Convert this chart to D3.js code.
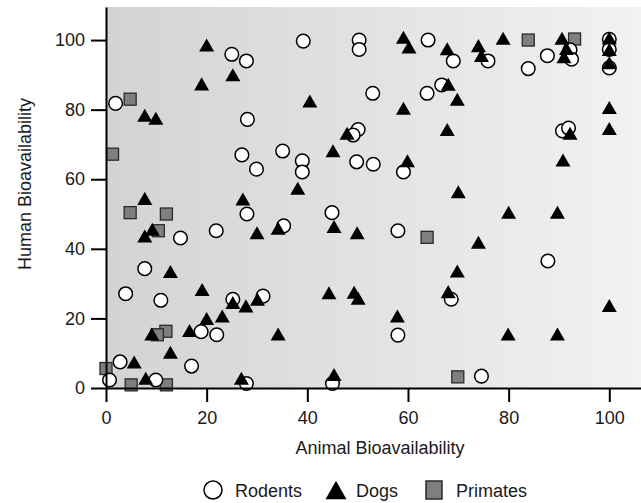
<!DOCTYPE html>
<html>
<head>
<meta charset="utf-8">
<script src="https://cdn.jsdelivr.net/npm/d3@7"></script>
<style>
  body { margin: 0; background: #fff; }
  svg { display: block; font-family: "Liberation Sans", Arial, Helvetica, sans-serif; }
</style>
</head>
<body>
<svg id="chart" width="641" height="503"></svg>
<script>
// ---- data ----
const seriesNames = ["Rodents", "Dogs", "Primates"];
const xTicks = [0, 20, 40, 60, 80, 100];
const yTicks = [0, 20, 40, 60, 80, 100];

const rodents = [
  [0.7,2.3],[2.8,7.5],[3.9,27.1],[7.7,34.3],[9.9,2.3],[10.9,25.2],[14.8,43.1],[17,6.3],
  [18.9,16.2],[22,15.3],[21.9,45.2],[25.2,25.5],[28,50],[27.9,1.3],[31.2,26.4],[35.3,46.6],
  [44.9,50.4],[45,1.3],[58,45.2],[58,15.2],[68.6,25.5],[74.6,3.4],[87.8,36.5],
  [1.9,81.8],[25,95.9],[27.9,94],[28.1,77.2],[27,67],[29.9,62.9],[35.1,68.1],[39.2,99.7],
  [39,65.3],[39,62.1],[50.3,100],[50.3,97.3],[50.1,74.3],[49.1,72.7],[49.8,65],[53.1,64.3],
  [53,84.7],[59.1,62.1],[63.8,84.7],[64,100],[66.7,87.1],[69,94],[75.9,94],[83.9,91.8],
  [87.7,95.5],[92.2,97.2],[92.5,94.5],[90.7,73.9],[91.9,74.7],[100,100.2],[100,97.3],[100,92]
];
const dogs = [
  [20,98.6],[25.2,90],[19,87.4],[7.7,78.4],[9.9,77.5],[40.5,82.5],[59.1,100.8],[60.2,98],
  [67.8,97.5],[74,98.4],[74.6,95.6],[78.9,100.5],[90.6,100.5],[91.5,97.6],[91,95.2],
  [100,100.6],[100,97.3],[100,93.5],[59.1,80.4],[68,87.3],[69.8,83],[67.8,74.3],[47.9,73.2],
  [45.1,68.2],[59.9,65.3],[38.1,57.4],[70,56.4],[92.2,73.2],[100,74.6],[100,80.6],[90.8,65.5],
  [7.7,54.5],[27.2,54.3],[9.2,45.6],[7.7,43.7],[30,44.6],[34.2,45.9],[45.3,46.4],[49.9,44.6],
  [12.8,33.5],[19.1,28.3],[25.2,24.6],[27.8,23.6],[30.1,25.5],[20,20],[23.1,20.7],[9.1,15.5],
  [16.6,16.5],[34.2,15.5],[12.8,10.3],[5.6,7.5],[7.9,2.8],[26.9,2.8],[44.3,27.4],[49.3,27.5],
  [50.1,25.8],[68,27.7],[57.9,20.7],[45.3,3.9],[69.8,33.6],[80,50.5],[89.7,50.5],[74,41.9],
  [100,23.7],[79.9,15.5],[89.7,15.5]
];
const primates = [
  [4.8,83],[1.3,67.2],[4.8,50.4],[12,50],[10.4,45.2],[11.9,16.3],[10.2,15.3],[0,5.6],
  [5,0.9],[12,0.9],[63.8,43.3],[69.9,3.2],[83.9,100],[93.1,100.3]
];

// ---- layout ----
const svg = d3.select("#chart");
const pLeft = 106, pRight = 641, pTop = 7, pBottom = 388;
const x = d3.scaleLinear().domain([0, 106.3]).range([pLeft, pRight]);
const y = d3.scaleLinear().domain([0, 109.5]).range([pBottom, pTop]);

// background gradient
const defs = svg.append("defs");
const grad = defs.append("linearGradient").attr("id", "bg").attr("x1", "0%").attr("x2", "100%").attr("y1", "0%").attr("y2", "0%");
grad.append("stop").attr("offset", "0%").attr("stop-color", "#d2d3d4");
grad.append("stop").attr("offset", "100%").attr("stop-color", "#f2f2f2");
svg.append("rect").attr("x", pLeft).attr("y", pTop).attr("width", pRight - pLeft).attr("height", pBottom - pTop).attr("fill", "url(#bg)");

// marker shapes
const triPath = (s) => { const h = s * 0.87; return `M0,${-h/2}L${s/2},${h/2}L${-s/2},${h/2}Z`; };
const sq = 12, triS = 15, cr = 6.8;

const g = svg.append("g");
g.selectAll("rect.pri").data(primates).join("rect").attr("class", "pri")
  .attr("x", d => x(d[0]) - sq/2).attr("y", d => y(d[1]) - sq/2)
  .attr("width", sq).attr("height", sq)
  .attr("fill", "#7f7f7f").attr("stroke", "#2a2a2a").attr("stroke-width", 1.3);
g.selectAll("circle.rod").data(rodents).join("circle").attr("class", "rod")
  .attr("cx", d => x(d[0])).attr("cy", d => y(d[1])).attr("r", cr)
  .attr("fill", "#fff").attr("stroke", "#000").attr("stroke-width", 1.5);
g.selectAll("path.dog").data(dogs).join("path").attr("class", "dog")
  .attr("transform", d => `translate(${x(d[0])},${y(d[1])})`)
  .attr("d", triPath(triS)).attr("fill", "#000");

// axes
const xAxis = svg.append("g").attr("transform", `translate(0,${pBottom})`)
  .call(d3.axisBottom(x).tickValues(xTicks).tickSize(14).tickSizeOuter(0).tickPadding(9));
const yAxis = svg.append("g").attr("transform", `translate(${pLeft},0)`)
  .call(d3.axisLeft(y).tickValues(yTicks).tickSize(15).tickSizeOuter(0).tickPadding(6));
[xAxis, yAxis].forEach(a => {
  a.select(".domain").attr("stroke", "#000").attr("stroke-width", 2);
  a.selectAll(".tick line").attr("stroke", "#000").attr("stroke-width", 2);
  a.selectAll(".tick text").attr("fill", "#1a1a1a").style("font-size", "18px").style("font-family", "'Liberation Sans', Arial, sans-serif");
});

// titles
svg.append("text").attr("x", 380).attr("y", 454).attr("text-anchor", "middle")
  .style("font-size", "18px").attr("fill", "#1a1a1a").text("Animal Bioavailability");
svg.append("text").attr("transform", "translate(31,184) rotate(-90)").attr("text-anchor", "middle")
  .style("font-size", "18px").attr("fill", "#1a1a1a").text("Human Bioavailability");

// legend
const ly = 490;
const lg = svg.append("g");
lg.append("circle").attr("cx", 213).attr("cy", ly).attr("r", 9).attr("fill", "#fff").attr("stroke", "#000").attr("stroke-width", 1.5);
lg.append("text").attr("x", 235).attr("y", ly + 6.5).style("font-size", "18px").attr("fill", "#1a1a1a").text(seriesNames[0]);
lg.append("path").attr("transform", `translate(336,${ly})`).attr("d", triPath(21)).attr("fill", "#000");
lg.append("text").attr("x", 356).attr("y", ly + 6.5).style("font-size", "18px").attr("fill", "#1a1a1a").text(seriesNames[1]);
lg.append("rect").attr("x", 434 - 8).attr("y", ly - 9).attr("width", 16).attr("height", 18)
  .attr("fill", "#7f7f7f").attr("stroke", "#2a2a2a").attr("stroke-width", 1.5);
lg.append("text").attr("x", 456).attr("y", ly + 6.5).style("font-size", "18px").attr("fill", "#1a1a1a").text(seriesNames[2]);
</script>
</body>
</html>
